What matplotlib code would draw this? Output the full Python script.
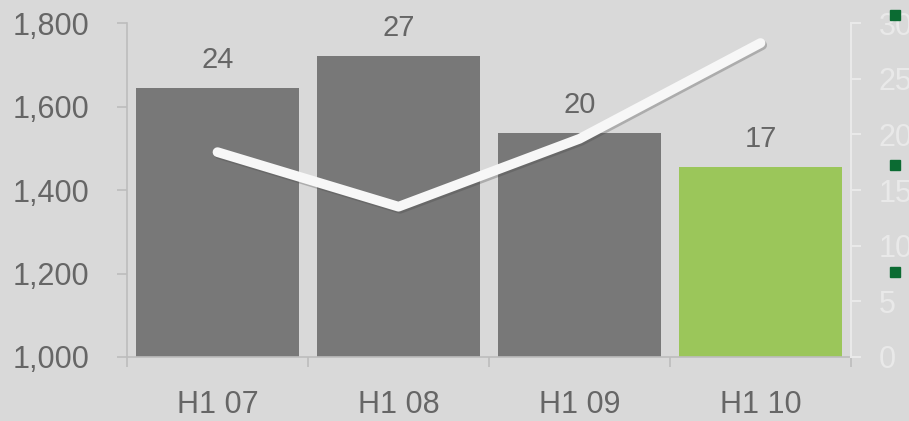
import matplotlib
matplotlib.use("Agg")
import matplotlib.pyplot as plt
import matplotlib.patheffects as pe
from matplotlib.patches import Rectangle

plt.rcParams['font.family'] = ['Liberation Sans', 'DejaVu Sans']

categories = ["H1 07", "H1 08", "H1 09", "H1 10"]
bar_values = [1644, 1721, 1536, 1455]
bar_labels = ["24", "27", "20", "17"]
line_values = [18.4, 13.5, 19.6, 28.2]
left_ticks = [1000, 1200, 1400, 1600, 1800]
right_ticks = [0, 5, 10, 15, 20, 25, 30]

BG = "#d9d9d9"
BAR_GREY = "#787878"
BAR_GREEN = "#9bc65a"
TEXT = "#666666"
SPINE = "#bdbdbd"
RIGHT_C = "#e9e9e9"

W, H = 909, 421
fig = plt.figure(figsize=(W / 100, H / 100), dpi=100, facecolor=BG)
ax = fig.add_axes([127 / W, 1 - 357 / H, (851 - 127) / W, (357 - 23) / H])
ax.set_facecolor(BG)

x = list(range(len(categories)))
colors = [BAR_GREY] * (len(categories) - 1) + [BAR_GREEN]
ax.bar(x, [v - left_ticks[0] for v in bar_values], bottom=left_ticks[0],
       width=0.9, color=colors, zorder=2)
ax.set_xlim(-0.5, len(categories) - 0.5)
ax.set_ylim(left_ticks[0], left_ticks[-1])
ax.set_yticks(left_ticks)
ax.set_yticklabels([f"{v:,}" for v in left_ticks])

for xi, v, lab in zip(x, bar_values, bar_labels):
    ax.annotate(lab, (xi, v), xytext=(0, 20), textcoords="offset points",
                ha="center", va="center", fontsize=21, color=TEXT, zorder=4)

ax.set_xticks(x)
ax.set_xticklabels(categories)
ax.set_xticks([i - 0.5 for i in range(len(categories) + 1)], minor=True)
ax.tick_params(axis="x", which="major", length=0, pad=24, labelsize=22, labelcolor=TEXT)
ax.tick_params(axis="x", which="minor", length=7, width=1.2, color=SPINE, direction="out")
ax.tick_params(axis="y", length=7, width=1.2, color=SPINE, pad=20, labelsize=22, labelcolor=TEXT)

for s in ["top", "right"]:
    ax.spines[s].set_visible(False)
for s in ["left", "bottom"]:
    ax.spines[s].set_color(SPINE)
    ax.spines[s].set_linewidth(1.2)

ax2 = ax.twinx()
ax2.set_ylim(right_ticks[0], right_ticks[-1])
ax2.set_yticks(right_ticks)
ax2.plot(x, line_values, color="#f7f7f7", linewidth=7, solid_capstyle="round",
         solid_joinstyle="round", zorder=5,
         path_effects=[pe.SimpleLineShadow(offset=(1.2, -1.5), shadow_color="#444444", alpha=0.3),
                       pe.Normal()])
for s in ["top", "left", "bottom"]:
    ax2.spines[s].set_visible(False)
ax2.spines["right"].set_color(RIGHT_C)
ax2.spines["right"].set_linewidth(1.5)
ax2.tick_params(axis="y", length=7, width=1.5, color=RIGHT_C, pad=13,
                labelsize=22, labelcolor=RIGHT_C)

for yc in [15, 165, 272]:
    fig.add_artist(Rectangle(((890) / W, 1 - (yc + 5) / H), 10 / W, 10 / H,
                             transform=fig.transFigure, color="#0b6b32", zorder=10))

fig.savefig("out.png", dpi=100, facecolor=BG)
